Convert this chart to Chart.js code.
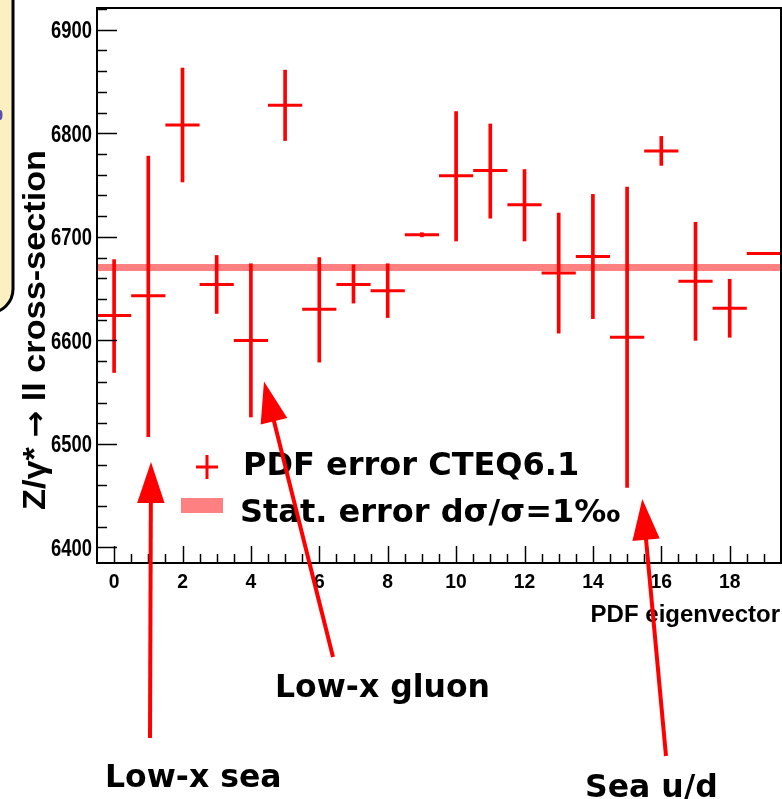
<!DOCTYPE html>
<html><head><meta charset="utf-8">
<script src="https://cdn.jsdelivr.net/npm/chart.js@4.4.1/dist/chart.umd.min.js"></script>
<style>html,body{margin:0;padding:0;background:#fff;overflow:hidden}</style>
</head><body>
<canvas id="c" width="782" height="799"></canvas>
<script>
// ---- data ----
const eigenvectors = [0,1,2,3,4,5,6,7,8,9,10,11,12,13,14,15,16,17,18,19];
const xsecCentral  = [6624,6643,6808,6654,6600,6827,6630,6654,6648,6702,6759,6764,6731,6665,6681,6603,6783,6657,6631,6684];
const xsecHigh     = [6678,6778,6863,6682,6674,6861,6680,6673,6674,6704,6821,6809,6765,6723,6741,6748,6797,6714,6659,6685];
const xsecLow      = [6569,6507,6753,6626,6526,6793,6579,6636,6622,6700,6696,6718,6696,6607,6621,6458,6769,6600,6603,6683];
const statBand     = [6667.0, 6673.8];     // 1 per-mille statistical band
const xRange       = [-0.5, 19.5];
const yRange       = [6385, 6921];
const yTickValues  = [6400,6500,6600,6700,6800,6900];
const xTickValues  = [0,2,4,6,8,10,12,14,16,18];
const yMinorStep = 20, xMinorStep = 0.5;

const RED = '#ff0000', PINK = '#ff8080';
const HELV = "'Liberation Sans',Arial,sans-serif";
const DEJA = "'DejaVu Sans',sans-serif";

const overlay = {
  id: 'overlay',
  afterDraw(chart) {
    const c = chart.ctx, a = chart.chartArea;
    const xs = chart.scales.x, ys = chart.scales.y;
    c.save();
    // ticks (inward, ROOT style)
    c.strokeStyle = '#000'; c.lineWidth = 1.5;
    for (let v = Math.ceil(yRange[0]/yMinorStep)*yMinorStep; v <= yRange[1]; v += yMinorStep) {
      const p = Math.round(ys.getPixelForValue(v)) + 0.5;
      const len = (v % 100 === 0) ? 20 : 10;
      c.beginPath(); c.moveTo(a.left, p); c.lineTo(a.left + len, p); c.stroke();
    }
    for (let v = xRange[0] + xMinorStep; v < xRange[1]; v += xMinorStep) {
      const p = Math.round(xs.getPixelForValue(v)) + 0.5;
      const len = (Math.abs(v % 2) < 1e-9) ? 17 : 9;
      c.beginPath(); c.moveTo(p, a.bottom); c.lineTo(p, a.bottom - len); c.stroke();
    }
    // frame
    c.lineWidth = 2; c.strokeStyle = '#000';
    c.strokeRect(a.left, a.top, a.right - a.left, a.bottom - a.top);

    // tick labels (condensed bold Helvetica, from the scales' ticks)
    c.fillStyle = '#000'; c.textBaseline = 'alphabetic';
    c.font = 'bold 23px ' + HELV; c.textAlign = 'right';
    ys.ticks.forEach(t => {
      const p = ys.getPixelForValue(t.value);
      c.save(); c.translate(92, p + 8.4); c.scale(0.8, 1);
      c.fillText(String(t.value), 0, 0); c.restore();
    });
    c.font = 'bold 21px ' + HELV; c.textAlign = 'center';
    xs.ticks.forEach(t => {
      const p = xs.getPixelForValue(t.value);
      c.save(); c.translate(p, 588); c.scale(0.92, 1);
      c.fillText(String(t.value), 0, 0); c.restore();
    });

    // axis titles
    c.font = 'bold 24px ' + HELV;
    c.textAlign = 'right';
    c.fillText('PDF eigenvector', 780, 622);

    c.save();
    c.translate(45, 330); c.rotate(-Math.PI/2);
    const parts = [
      ['Z/\u03b3* ', 'bold 32px ' + HELV],
      ['\u2192', 'bold 30px ' + DEJA],
      [' ll cross-section', 'bold 32px ' + HELV]
    ];
    let total = 0;
    const widths = parts.map(([t, f]) => { c.font = f; const w = c.measureText(t).width; total += w; return w; });
    c.scale(360 / total, 1);
    c.textAlign = 'left';
    let px = -total / 2;
    parts.forEach(([t, f], i) => { c.font = f; c.fillText(t, px, 0); px += widths[i]; });
    c.restore();

    // legend
    c.strokeStyle = RED; c.lineWidth = 3;
    c.beginPath(); c.moveTo(196, 467); c.lineTo(218, 467); c.moveTo(207, 455); c.lineTo(207, 479); c.stroke();
    c.fillStyle = PINK; c.fillRect(181, 498, 42, 15);
    c.fillStyle = '#000';
    c.font = 'bold 32px ' + DEJA;
    c.textAlign = 'left';
    c.fillText('PDF error CTEQ6.1', 243, 475);
    c.fillText('Stat. error d\u03c3/\u03c3=1\u2030', 240, 522);

    // annotation labels
    c.font = 'bold 31.5px ' + DEJA;
    c.fillText('Low-x gluon', 275, 697);
    c.fillText('Low-x sea', 105, 787);
    c.fillText('Sea u/d', 585, 797);

    // arrows
    function arrow(x0, y0, x1, y1) {
      const dx = x1 - x0, dy = y1 - y0, L = Math.hypot(dx, dy);
      const ux = dx / L, uy = dy / L, hl = 41, hw = 13.7;
      const bx = x1 - ux * hl, by = y1 - uy * hl;
      c.strokeStyle = RED; c.fillStyle = RED; c.lineWidth = 4;
      c.beginPath(); c.moveTo(x0, y0); c.lineTo(bx + ux * 2, by + uy * 2); c.stroke();
      c.beginPath(); c.moveTo(x1, y1);
      c.lineTo(bx - uy * hw, by + ux * hw); c.lineTo(bx + uy * hw, by - ux * hw);
      c.closePath(); c.fill();
    }
    arrow(150, 738, 151, 462);
    arrow(333, 657, 264, 381.5);
    arrow(666, 756, 642.3, 499);

    // partial info box at the left edge
    c.fillStyle = '#fcf0c2'; c.strokeStyle = '#000'; c.lineWidth = 3;
    c.beginPath();
    c.moveTo(-10, -10); c.lineTo(13, -10); c.lineTo(13, 290);
    c.arcTo(13, 313, -10, 313, 24); c.lineTo(-10, 313); c.closePath();
    c.fill(); c.stroke();
    c.fillStyle = '#5a50b0';
    c.beginPath(); c.ellipse(0, 115, 2.5, 5, 0, 0, Math.PI*2); c.fill();
    c.restore();
  }
};

const halfBin = (ctx) => {
  const s = ctx.chart.scales.x;
  return Math.abs(s.getPixelForValue(0.5) - s.getPixelForValue(0));
};

new Chart(document.getElementById('c'), {
  type: 'scatter',
  data: {
    datasets: [
      { type: 'line', data: xRange.map(x => ({x, y: statBand[1]})), borderWidth: 0, pointRadius: 0, fill: false, order: 10 },
      { type: 'line', data: xRange.map(x => ({x, y: statBand[0]})), borderWidth: 0, pointRadius: 0, fill: '-1', backgroundColor: PINK, order: 9 },
      { type: 'bar', data: eigenvectors.map((x, i) => ({x, y: [xsecLow[i], xsecHigh[i]]})), backgroundColor: RED, barThickness: 3, order: 2 },
      { type: 'scatter', data: eigenvectors.map((x, i) => ({x, y: xsecCentral[i]})), pointStyle: 'line', radius: halfBin, borderColor: RED, borderWidth: 3, order: 1 }
    ]
  },
  options: {
    responsive: false, animation: false, devicePixelRatio: 1,
    layout: { padding: { left: 0, right: 1, top: 8, bottom: 0 } },
    plugins: { legend: { display: false }, tooltip: { enabled: false } },
    scales: {
      x: {
        type: 'linear', min: xRange[0], max: xRange[1], offset: false,
        grid: { display: false, drawTicks: false }, border: { display: false },
        afterBuildTicks: s => { s.ticks = xTickValues.map(v => ({value: v})); },
        afterFit: s => { s.height = 236; },
        ticks: { display: false, autoSkip: false, maxRotation: 0 }
      },
      y: {
        type: 'linear', min: yRange[0], max: yRange[1],
        grid: { display: false, drawTicks: false }, border: { display: false },
        afterBuildTicks: s => { s.ticks = yTickValues.map(v => ({value: v})); },
        afterFit: s => { s.width = 97; },
        ticks: { display: false }
      }
    }
  },
  plugins: [overlay]
});
</script>
</body></html>
